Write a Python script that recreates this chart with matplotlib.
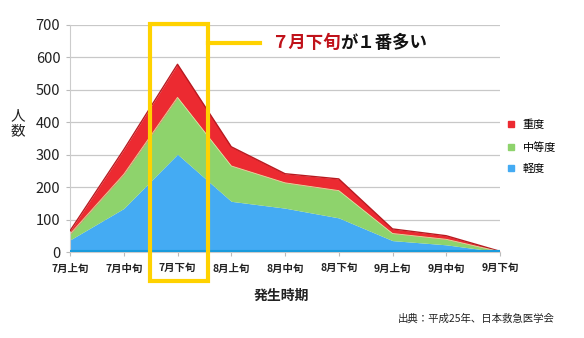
import matplotlib
matplotlib.use("Agg")
import matplotlib.pyplot as plt
from matplotlib.patches import Rectangle
from matplotlib.lines import Line2D
import matplotlib.transforms as mtransforms
import numpy as np

plt.rcParams['font.family'] = ['Noto Sans CJK JP', 'DejaVu Sans']

categories = ["7月上旬", "7月中旬", "7月下旬", "8月上旬", "8月中旬", "8月下旬", "9月上旬", "9月中旬", "9月下旬"]
mild = [38, 135, 302, 157, 136, 106, 36, 23, 1]        # 軽度
moderate = [18, 105, 175, 109, 78, 84, 22, 17, 1]      # 中等度
severe = [10, 76, 102, 59, 28, 36, 14, 11, 1]          # 重度
series_names = ["軽度", "中等度", "重度"]
yticks = [0, 100, 200, 300, 400, 500, 600, 700]

c_blue = "#44abf3"
c_green = "#8ed36c"
c_red = "#ec2a31"

fig = plt.figure(figsize=(5.84, 3.38), dpi=100)
ax = fig.add_axes([70/584, 1-252.3/338, 430/584, 227.3/338])

x = np.arange(len(categories))
b1 = np.array(mild)
b2 = b1 + np.array(moderate)
b3 = b2 + np.array(severe)

ax.fill_between(x, 0, b1, color=c_blue, lw=0, zorder=2)
ax.fill_between(x, b1, b2, color=c_green, lw=0, zorder=2)
ax.fill_between(x, b2, b3, color=c_red, lw=0, zorder=2)
ax.plot(x, b3, color="#b81a20", lw=1.0, zorder=3)
ax.plot(x, b2, color="#d8e8a0", lw=0.6, zorder=3)
ax.plot(x, np.zeros_like(x), color="#1a9bdc", lw=3, zorder=3, solid_capstyle='butt')

ax.set_xlim(0, len(categories) - 1)
ax.set_ylim(0, 700)
ax.set_yticks(yticks)
ax.set_yticklabels([str(v) for v in yticks], fontsize=10.5, color="#222222")
ax.set_xticks(x)
ax.set_xticklabels(categories, fontsize=7.5, fontweight='bold', color="#222222")
ax.tick_params(axis='both', length=3, color="#bbbbbb", pad=4)
ax.tick_params(axis='x', pad=5)
ax.grid(axis='y', color="#c8c8c8", lw=0.9, zorder=0)
for s in ['top', 'right']:
    ax.spines[s].set_visible(False)
ax.spines['left'].set_color("#cccccc")
ax.spines['bottom'].set_color("#cccccc")

# y label stacked vertically
fig.text(18/584, 1-124/338, "人\n数", fontsize=10.5, ha='center', va='center', linespacing=1.1, color="#222222")
fig.text(281/584, 1-296/338, "発生時期", fontsize=10, fontweight='bold', ha='center', va='center', color="#222222")
fig.text(555/584, 1-319/338, "出典：平成25年、日本救急医学会", fontsize=7.5, ha='right', va='center', color="#222222")

# legend
handles = [Line2D([], [], marker='s', ls='', color=c, markersize=5) for c in [c_red, c_green, c_blue]]
leg = fig.legend(handles, [series_names[2], series_names[1], series_names[0]],
                 loc='center left', bbox_to_anchor=(497/584, 1-147/338), frameon=False,
                 fontsize=8, handlelength=0.8, handletextpad=0.6, labelspacing=1.05)

# highlight box around peak
peak = int(np.argmax(b3))
trans = mtransforms.blended_transform_factory(ax.transData, ax.transAxes)
rect = Rectangle((peak - 0.52, -0.126), 1.09, 1.13, transform=trans, fill=False,
                 edgecolor="#ffd200", lw=3, clip_on=False, zorder=5)
ax.add_patch(rect)
ax.plot([peak + 0.57, peak + 1.53], [0.921, 0.921], transform=trans, color="#ffd200",
        lw=3, clip_on=False, zorder=5)

t1 = ax.text(peak + 1.74, 0.921, "７月下旬", transform=trans, fontsize=12.5, fontweight='bold',
             color="#c0121a", ha='left', va='center', zorder=6)
fig.canvas.draw()
bb = t1.get_window_extent()
ax.annotate("が１番多い", xy=(bb.x1, (bb.y0 + bb.y1) / 2), xycoords='figure pixels',
            fontsize=12.5, fontweight='bold', color="#111111", ha='left', va='center')

fig.savefig("out.png", dpi=100)
